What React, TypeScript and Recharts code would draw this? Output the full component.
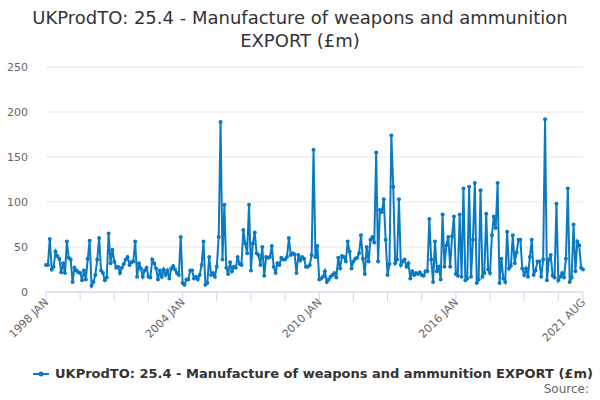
import { LineChart, Line, XAxis, YAxis, CartesianGrid } from 'recharts';

const TITLE = 'UKProdTO: 25.4 - Manufacture of weapons and ammunition EXPORT (£m)';
const MONTH_NAMES = ['JAN', 'FEB', 'MAR', 'APR', 'MAY', 'JUN', 'JUL', 'AUG', 'SEP', 'OCT', 'NOV', 'DEC'];
const START_YEAR = 1998;
const LABELLED_MONTHS = ['1998 JAN', '2004 JAN', '2010 JAN', '2016 JAN', '2021 AUG'];
const Y_TICKS = [0, 50, 100, 150, 200, 250];

// Jan 1998 - Dec 2001
const jan1998ToDec2001 = [
  30, 30, 59, 25, 28, 45, 40, 37, 22, 32, 21, 56, 38, 36, 11, 27, 24, 22, 21, 13, 24, 14, 37, 57,
  7, 11, 19, 36, 60, 24, 21, 13, 16, 65, 32, 47, 34, 27, 28, 21, 27, 31, 36, 39, 30, 33, 34, 56,
];
// Jan 2002 - Sep 2005
const jan2002ToSep2005 = [
  17, 32, 26, 17, 24, 27, 17, 16, 36, 32, 26, 14, 24, 17, 25, 19, 24, 15, 26, 29, 25, 21, 19, 61,
  10, 8, 14, 14, 24, 24, 15, 17, 14, 19, 30, 56, 8, 10, 39, 19, 21, 17, 28, 61, 189,
];
// Oct 2005 - Oct 2009
const oct2005ToOct2009 = [
  36, 97, 27, 20, 33, 23, 28, 27, 39, 31, 30, 69, 54, 43, 97, 24, 54, 66, 43, 41, 30, 50, 18, 39,
  38, 39, 51, 28, 21, 32, 30, 38, 36, 36, 39, 60, 41, 43, 42, 21, 41, 35, 39, 37, 28, 28, 30, 41, 158,
];
// Nov 2009 - Jul 2012
const nov2009ToJul2012 = [
  39, 51, 14, 15, 17, 23, 11, 14, 17, 19, 21, 16, 38, 26, 40, 39, 34, 56, 45, 26, 34, 37, 38, 43,
  63, 37, 20, 50, 34, 58, 61, 55, 155,
];
// Aug 2012 - Mar 2016
const aug2012ToMar2016 = [
  34, 91, 89, 103, 58, 19, 31, 174, 117, 32, 36, 103, 30, 34, 36, 28, 32, 15, 23, 19, 21, 20, 22, 19,
  18, 23, 23, 81, 36, 11, 56, 23, 28, 14, 86, 28, 52, 61, 28, 62, 84, 20, 18, 86,
];
// Apr 2016 - Aug 2021
const apr2016ToAug2021 = [
  17, 115, 13, 15, 117, 17, 58, 121, 10, 14, 113, 17, 21, 87, 25, 21, 63, 84, 71, 121, 10, 37, 15, 11,
  67, 26, 29, 63, 32, 44, 58, 58, 26, 19, 26, 17, 39, 58, 19, 24, 34, 34, 17, 36, 192, 13, 36, 41,
  18, 16, 98, 13, 17, 21, 16, 37, 115, 11, 16, 75, 23, 56, 52, 27, 25,
];

const exportValues = [
  ...jan1998ToDec2001,
  ...jan2002ToSep2005,
  ...oct2005ToOct2009,
  ...nov2009ToJul2012,
  ...aug2012ToMar2016,
  ...apr2016ToAug2021,
];

const months = exportValues.map(
  (_, i) => `${START_YEAR + Math.floor(i / 12)} ${MONTH_NAMES[i % 12]}`
);

const data = months.map((month, i) => ({ month, value: exportValues[i] }));

// tick marks every 18 months, plus the last month
const tickMonths = months.filter((_, i) => i % 18 === 0).concat(months[months.length - 1]);

const LINE_COLOR = '#0a7bc2';
const FONT = '"DejaVu Sans", Verdana, sans-serif';

function MonthTick(props: any) {
  const { x, y, payload } = props;
  if (!LABELLED_MONTHS.includes(payload.value)) return <g />;
  return (
    <text
      x={x + 3}
      y={y}
      transform={`rotate(-45 ${x + 3} ${y})`}
      textAnchor="end"
      fontSize={11}
      fill="#666"
      fontFamily={FONT}
    >
      {payload.value}
    </text>
  );
}

export default function App() {
  return (
    <div
      style={{
        position: 'absolute',
        left: 0,
        top: 0,
        width: 600,
        height: 400,
        background: '#fff',
        fontFamily: FONT,
      }}
    >
      <div
        style={{
          position: 'absolute',
          top: 6,
          left: 0,
          width: 600,
          textAlign: 'center',
          fontSize: 18,
          lineHeight: '23px',
          color: '#333',
        }}
      >
        UKProdTO: 25.4 - Manufacture of weapons and ammunition
        <br />
        EXPORT (£m)
      </div>

      <LineChart
        width={600}
        height={400}
        data={data}
        margin={{ top: 67, right: 17, left: 0, bottom: 38 }}
      >
        <CartesianGrid vertical={false} stroke="#e6e6e6" />
        <XAxis
          dataKey="month"
          ticks={tickMonths}
          interval={0}
          height={70}
          tickSize={9}
          tickMargin={2}
          axisLine={{ stroke: '#ccd6eb' }}
          tickLine={{ stroke: '#ccd6eb' }}
          tick={<MonthTick />}
        />
        <YAxis
          domain={[0, 250]}
          ticks={Y_TICKS}
          width={46}
          axisLine={false}
          tickLine={false}
          tickMargin={12}
          tick={{ fontSize: 11, fill: '#666', fontFamily: FONT }}
        />
        <Line
          type="linear"
          dataKey="value"
          stroke={LINE_COLOR}
          strokeWidth={2}
          dot={{ r: 2, fill: LINE_COLOR, stroke: LINE_COLOR, strokeWidth: 0 }}
          isAnimationActive={false}
        />
      </LineChart>

      <div
        style={{
          position: 'absolute',
          left: 33,
          top: 366,
          display: 'flex',
          alignItems: 'center',
          fontSize: 13,
          fontWeight: 'bold',
          color: '#333',
        }}
      >
        <svg width={16} height={10} style={{ marginRight: 6 }}>
          <line x1={0} y1={5} x2={16} y2={5} stroke={LINE_COLOR} strokeWidth={2} />
          <circle cx={8} cy={5} r={2.5} fill={LINE_COLOR} />
        </svg>
        <span>{TITLE}</span>
      </div>

      <div
        style={{
          position: 'absolute',
          right: 11,
          top: 382,
          fontSize: 12,
          color: '#666',
        }}
      >
        Source:
      </div>
    </div>
  );
}
